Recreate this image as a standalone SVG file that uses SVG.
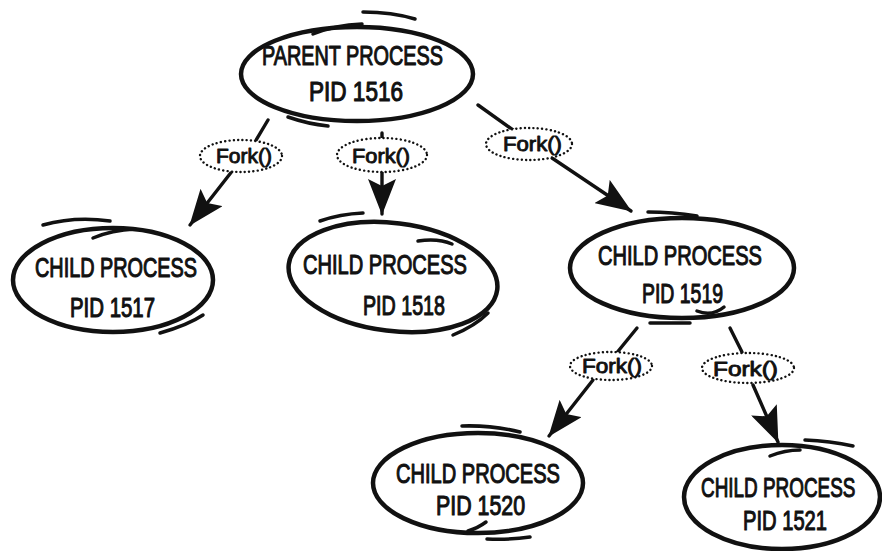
<svg xmlns="http://www.w3.org/2000/svg" width="882" height="551" viewBox="0 0 882 551">
<style>
.bg{fill:#ffffff}
.node{fill:none;stroke:#111;stroke-width:4.5;stroke-linecap:round}
.acc{fill:none;stroke:#111;stroke-width:3.5;stroke-linecap:round}
.nt{font-family:"Liberation Sans",Arial,sans-serif;font-size:27px;fill:#111;stroke:#111;stroke-width:1.1;stroke-linejoin:round}
.lbl{fill:#fff;stroke:#111;stroke-width:2.4;stroke-dasharray:0.1 4.2;stroke-linecap:round}
.lt{font-family:"Liberation Sans",Arial,sans-serif;font-size:20px;fill:#111;stroke:#111;stroke-width:0.9;stroke-linejoin:round}
.edge{fill:none;stroke:#111;stroke-width:3.4;stroke-linecap:round}
</style>
<defs>
<marker id="ah" viewBox="0 0 36 28" refX="35" refY="14" markerWidth="36" markerHeight="28" markerUnits="userSpaceOnUse" orient="auto">
<path d="M0,0 L36,14 L0,28 L7,14 z" fill="#111"/>
</marker>
</defs>
<rect class="bg" x="0" y="0" width="882" height="551"/>

<g id="connectors">
<path class="edge" d="M268 120 L255 142"/>
<path class="edge" d="M233 170 L190 225" marker-end="url(#ah)"/>
<path class="edge" d="M382 133 L382 139"/>
<path class="edge" d="M382 172 L382 214" marker-end="url(#ah)"/>
<path class="edge" d="M478 105 L513 130"/>
<path class="edge" d="M552 158 L631 211" marker-end="url(#ah)"/>
<path class="edge" d="M637 328 L615 355"/>
<path class="edge" d="M593 380 L549 436" marker-end="url(#ah)"/>
<path class="edge" d="M730 328 L742 352"/>
<path class="edge" d="M753 385 L778 442" marker-end="url(#ah)"/>
</g>

<g id="fork1">
<ellipse class="lbl" cx="241" cy="156" rx="41" ry="16"/>
<text class="lt" x="216" y="163" textLength="56" lengthAdjust="spacingAndGlyphs">Fork()</text>
</g>
<g id="fork2">
<ellipse class="lbl" cx="382" cy="155" rx="45" ry="17"/>
<text class="lt" x="352" y="163" textLength="58" lengthAdjust="spacingAndGlyphs">Fork()</text>
</g>
<g id="fork3">
<ellipse class="lbl" cx="529" cy="144" rx="43" ry="16"/>
<text class="lt" x="503" y="151" textLength="59" lengthAdjust="spacingAndGlyphs">Fork()</text>
</g>
<g id="fork4">
<ellipse class="lbl" cx="611" cy="366" rx="41" ry="14"/>
<text class="lt" x="582" y="373" textLength="60" lengthAdjust="spacingAndGlyphs">Fork()</text>
</g>
<g id="fork5">
<ellipse class="lbl" cx="748" cy="368" rx="46" ry="15"/>
<text class="lt" x="713" y="376" textLength="65" lengthAdjust="spacingAndGlyphs">Fork()</text>
</g>

<g id="parent">
<ellipse class="node" cx="357" cy="74" rx="116" ry="47"/>
<path class="acc" d="M313 34 Q335 25 362 24"/>
<path class="acc" d="M363 12 Q392 12 415 19"/>
<path class="acc" d="M288 117 Q308 124 328 126"/>
<text class="nt" x="262" y="65" textLength="181" lengthAdjust="spacingAndGlyphs">PARENT PROCESS</text>
<text class="nt" x="309" y="101" textLength="94" lengthAdjust="spacingAndGlyphs">PID 1516</text>
</g>

<g id="child1517">
<ellipse class="node" cx="113" cy="280" rx="100" ry="52"/>
<path class="acc" d="M43 225 Q75 216 110 221"/>
<path class="acc" d="M93 238 Q112 230 135 229"/>
<path class="acc" d="M160 333 Q188 325 203 315"/>
<text class="nt" x="35" y="277" textLength="162" lengthAdjust="spacingAndGlyphs">CHILD PROCESS</text>
<text class="nt" x="70" y="317" textLength="85" lengthAdjust="spacingAndGlyphs">PID 1517</text>
</g>

<g id="child1518">
<ellipse class="node" cx="393" cy="277" rx="105" ry="54" transform="rotate(7 393 277)"/>
<path class="acc" d="M320 221 Q340 214 363 213"/>
<path class="acc" d="M418 241 Q438 238 452 244"/>
<path class="acc" d="M453 335 Q475 326 488 313"/>
<text class="nt" x="303" y="274" textLength="164" lengthAdjust="spacingAndGlyphs">CHILD PROCESS</text>
<text class="nt" x="363" y="315" textLength="82" lengthAdjust="spacingAndGlyphs">PID 1518</text>
</g>

<g id="child1519">
<ellipse class="node" cx="682" cy="268" rx="112" ry="50"/>
<path class="acc" d="M648 212 Q672 212 697 216"/>
<path class="acc" d="M650 323 L690 323"/>
<path class="acc" d="M697 311 Q712 317 724 307"/>
<text class="nt" x="598" y="265" textLength="164" lengthAdjust="spacingAndGlyphs">CHILD PROCESS</text>
<text class="nt" x="642" y="303" textLength="81" lengthAdjust="spacingAndGlyphs">PID 1519</text>
</g>

<g id="child1520">
<ellipse class="node" cx="478" cy="483" rx="105" ry="50"/>
<path class="acc" d="M462 426 Q492 425 520 432"/>
<path class="acc" d="M487 539 Q510 540 530 537"/>
<path class="acc" d="M468 531 Q478 528 486 522"/>
<text class="nt" x="396" y="483" textLength="164" lengthAdjust="spacingAndGlyphs">CHILD PROCESS</text>
<text class="nt" x="436" y="515" textLength="89" lengthAdjust="spacingAndGlyphs">PID 1520</text>
</g>

<g id="child1521">
<ellipse class="node" cx="782" cy="497" rx="98" ry="52"/>
<path class="acc" d="M805 440 Q830 441 853 446"/>
<path class="acc" d="M770 456 Q785 450 800 450"/>
<text class="nt" transform="translate(701 497) scale(0.7 1)" x="0" y="0">CHILD PROCESS</text>
<text class="nt" x="743" y="530" textLength="84" lengthAdjust="spacingAndGlyphs">PID 1521</text>
</g>
</svg>
